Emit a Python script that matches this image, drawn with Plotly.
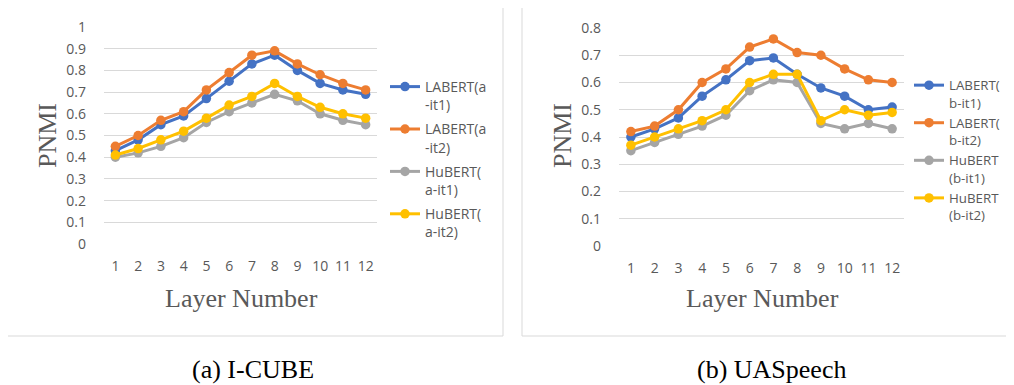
import plotly.graph_objects as go

layers = list(range(1, 13))

# I-CUBE panel
labert_a_it1 = [0.43, 0.48, 0.55, 0.59, 0.67, 0.75, 0.83, 0.87, 0.80, 0.74, 0.71, 0.69]
labert_a_it2 = [0.45, 0.50, 0.57, 0.61, 0.71, 0.79, 0.87, 0.89, 0.83, 0.78, 0.74, 0.71]
hubert_a_it1 = [0.40, 0.42, 0.45, 0.49, 0.56, 0.61, 0.65, 0.69, 0.66, 0.60, 0.57, 0.55]
hubert_a_it2 = [0.41, 0.44, 0.48, 0.52, 0.58, 0.64, 0.68, 0.74, 0.68, 0.63, 0.60, 0.58]

# UASpeech panel
labert_b_it1 = [0.40, 0.43, 0.47, 0.55, 0.61, 0.68, 0.69, 0.63, 0.58, 0.55, 0.50, 0.51]
labert_b_it2 = [0.42, 0.44, 0.50, 0.60, 0.65, 0.73, 0.76, 0.71, 0.70, 0.65, 0.61, 0.60]
hubert_b_it1 = [0.35, 0.38, 0.41, 0.44, 0.48, 0.57, 0.61, 0.60, 0.45, 0.43, 0.45, 0.43]
hubert_b_it2 = [0.37, 0.40, 0.43, 0.46, 0.50, 0.60, 0.63, 0.63, 0.46, 0.50, 0.48, 0.49]

names_a = ["LABERT(a<br>-it1)", "LABERT(a<br>-it2)", "HuBERT(<br>a-it1)", "HuBERT(<br>a-it2)"]
names_b = ["LABERT(<br>b-it1)", "LABERT(<br>b-it2)", "HuBERT<br>(b-it1)", "HuBERT<br>(b-it2)"]
colors = ["#4472C4", "#ED7D31", "#A5A5A5", "#FFC000"]

W, H = 1014, 385
OFF = 8  # page body margin offset
sans = "Open Sans"
serif = "Liberation Serif"
tick_color = "#595959"

fig = go.Figure()

for i, (ys, nm) in enumerate(zip([labert_a_it1, labert_a_it2, hubert_a_it1, hubert_a_it2], names_a)):
    fig.add_trace(go.Scatter(
        x=layers, y=ys, name=nm, mode="lines+markers",
        line=dict(color=colors[i], width=3), marker=dict(size=9.5, color=colors[i]),
        xaxis="x", yaxis="y", legend="legend", legendgroup="a%d" % i))

for i, (ys, nm) in enumerate(zip([labert_b_it1, labert_b_it2, hubert_b_it1, hubert_b_it2], names_b)):
    fig.add_trace(go.Scatter(
        x=layers, y=ys, name=nm, mode="lines+markers",
        line=dict(color=colors[i], width=3), marker=dict(size=9.5, color=colors[i]),
        xaxis="x2", yaxis="y2", legend="legend2", legendgroup="b%d" % i))

def px_x(p):
    return (p - OFF) / W

def px_y(p):
    return 1 - (p - OFF) / H

axis_common = dict(showline=False, zeroline=False, ticks="", automargin=False,
                   tickfont=dict(family=sans, size=14, color=tick_color))

def ann(text, x, y, size, color, family, angle=0):
    return dict(text=text, xref="paper", yref="paper", x=px_x(x), y=px_y(y),
                xanchor="center", yanchor="middle", textangle=angle, showarrow=False,
                font=dict(family=family, size=size, color=color))

fig.update_layout(
    width=W, height=H, margin=dict(l=0, r=0, t=0, b=0, pad=0, autoexpand=False),
    paper_bgcolor="white", plot_bgcolor="white",
    xaxis=dict(domain=[px_x(104), px_x(377)], range=[0.5, 12.5], tickmode="array",
               tickvals=layers, showgrid=False, anchor="y", ticklabelstandoff=12, **axis_common),
    yaxis=dict(domain=[px_y(244), px_y(27)], range=[0, 1], dtick=0.1, showgrid=True,
               gridcolor="#D9D9D9", gridwidth=1, anchor="x", ticklabelstandoff=17, **axis_common),
    xaxis2=dict(domain=[px_x(619), px_x(904)], range=[0.5, 12.5], tickmode="array",
                tickvals=layers, showgrid=False, anchor="y2", ticklabelstandoff=12, **axis_common),
    yaxis2=dict(domain=[px_y(246), px_y(28)], range=[0, 0.8], dtick=0.1, showgrid=True,
                gridcolor="#D9D9D9", gridwidth=1, anchor="x2", ticklabelstandoff=17, **axis_common),
    legend=dict(x=px_x(385), y=px_y(71), xanchor="left", yanchor="top", valign="top",
                font=dict(family=sans, size=14, color=tick_color), tracegroupgap=3,
                bgcolor="rgba(0,0,0,0)"),
    legend2=dict(x=px_x(909), y=px_y(70), xanchor="left", yanchor="top", valign="top",
                 font=dict(family=sans, size=13.3, color=tick_color), tracegroupgap=0,
                 bgcolor="rgba(0,0,0,0)"),
    showlegend=True,
    shapes=[
        dict(type="rect", xref="paper", yref="paper", x0=px_x(6), x1=px_x(503), y0=px_y(336), y1=px_y(6),
             line=dict(color="#D9D9D9", width=1)),
        dict(type="rect", xref="paper", yref="paper", x0=px_x(522), x1=px_x(1012), y0=px_y(336), y1=px_y(7),
             line=dict(color="#D9D9D9", width=1)),
    ],
    annotations=[
        ann("PNMI", 47, 136, 26, tick_color, serif, -90),
        ann("Layer Number", 241, 298, 26, tick_color, serif),
        ann("PNMI", 562, 136, 26, tick_color, serif, -90),
        ann("Layer Number", 762, 298, 26, tick_color, serif),
        ann("(a) I-CUBE", 253, 369, 26, "black", serif),
        ann("(b) UASpeech", 771, 369, 26, "black", serif),
    ],
)

fig.write_html("out.html")
